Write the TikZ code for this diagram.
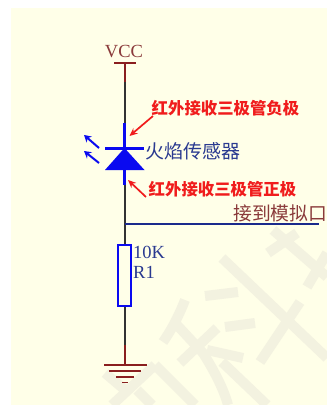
\documentclass[tikz,border=0pt]{standalone}
\usepackage{fontspec}
\setmainfont{Liberation Serif}
\newfontfamily\cjk{Noto Sans CJK SC}
\usetikzlibrary{arrows.meta}
\definecolor{paper}{HTML}{FFFFE8}
\definecolor{wm}{HTML}{F3F2E0}
\definecolor{wirered}{HTML}{8A1F1F}
\definecolor{wireblk}{HTML}{333333}
\definecolor{partblue}{HTML}{0A0AF0}
\definecolor{netnavy}{HTML}{1A2A8C}
\definecolor{labred}{HTML}{F01C1C}
\definecolor{lablue}{HTML}{2A3A90}
\definecolor{labbrown}{HTML}{8A3A3A}
\tikzset{
  wmstroke/.style={draw=wm,line width=10pt},
  redwire/.style={draw=wirered,line width=2pt},
  blkwire/.style={draw=wireblk,line width=2pt},
  bluewire/.style={draw=partblue,line width=2.4pt},
  gndbar/.style={draw=wirered,line width=1.7pt},
  note/.style={text=labred,font=\cjk\bfseries\fontsize{16.4}{16.4}\selectfont,inner sep=0pt},
  callout/.style={draw=labred,line width=1.7pt,-{Stealth[length=8pt,width=7pt]}},
  ledray/.style={draw=partblue,line width=2pt,-{Stealth[length=7pt,width=8pt]}},
  lab/.style={font=\fontsize{18.5}{18.5}\selectfont,inner sep=0pt}
}
\begin{document}
\begin{tikzpicture}[x=1pt,y=-1pt]
\useasboundingbox (0,0) rectangle (327,405);
\fill[white] (0,0) rectangle (327,405);
\fill[paper] (10.5,8) rectangle (327,405);
\begin{scope}
\clip (10.5,8) rectangle (327,405);
\draw[wmstroke] (222,258) -- (327,358);
\draw[wmstroke] (300,302) -- (260,362);
\draw[wmstroke] (205,296) -- (238,292);
\draw[wmstroke] (225,327) -- (255,323);
\draw[wmstroke] (185,300) .. controls (178,318) and (170,332) .. (163,342);
\draw[wmstroke] (177,325) -- (203,353) .. controls (215,372) and (224,390) .. (228,405);
\draw[wmstroke] (217,328) -- (180,363);
\draw[wmstroke] (207,350) -- (243,358);
\draw[wmstroke] (222,362) -- (267,405);
\draw[wmstroke] (155,365) -- (112,405);
\draw[wmstroke] (155,365) -- (195,405);
\draw[wmstroke] (137,390) -- (152,405);
\draw[wmstroke] (105,373) -- (125,390);
\draw[wmstroke] (273,230) -- (327,277);
\draw[wmstroke] (268,253) -- (297,233);
\draw[wmstroke] (307,287) -- (327,253);
\end{scope}
% wires
\coordinate (vccbarL) at (114,62.5);
\coordinate (vccbarR) at (136,62.5);
\coordinate (vcc) at (124.5,62.5);
\coordinate (w1) at (124.5,82);
\coordinate (w2) at (124.5,123);
\coordinate (k) at (124.5,148);
\coordinate (a) at (124.5,170);
\coordinate (w3) at (124.5,185);
\coordinate (tap) at (124.5,224);
\coordinate (netend) at (319,224);
\coordinate (w4) at (124.5,345);
\coordinate (gnd) at (124.5,365);
\node[draw=partblue,line width=2.2pt,minimum width=13pt,minimum height=61pt,inner sep=0pt,anchor=north] (r1) at (124.5,244) {};
\draw[redwire] (vccbarL) -- (vccbarR);
\draw[redwire] (vcc) -- (w1);
\draw[blkwire] (w1) -- (w2);
\draw[bluewire] (w2) -- (k);
\draw[bluewire] (a) -- (w3);
\draw[blkwire] (w3) -- (r1.north);
\draw[blkwire] (r1.south) -- (w4);
\draw[redwire] (w4) -- (gnd);
\draw[draw=netnavy,line width=1.6pt] (tap) -- (netend);
% diode
\coordinate (dL) at (105,148.5);
\coordinate (dR) at (143.5,148.5);
\coordinate (tL) at (105,170);
\coordinate (tR) at (144.5,170);
\draw[draw=partblue,line width=2.6pt] (dL) -- (dR);
\fill[partblue] (k) -- (tR) -- (tL) -- cycle;
\coordinate (ray1s) at (99,148);
\coordinate (ray1e) at (84,135);
\coordinate (ray2s) at (99,163);
\coordinate (ray2e) at (84,151);
\draw[ledray] (ray1s) -- (ray1e);
\draw[ledray] (ray2s) -- (ray2e);
% ground
\coordinate (g1L) at (104,365); \coordinate (g1R) at (147,365);
\coordinate (g2L) at (109,371); \coordinate (g2R) at (141,371);
\coordinate (g3L) at (116,377); \coordinate (g3R) at (134,377);
\coordinate (g4L) at (122,382.5); \coordinate (g4R) at (128,382.5);
\draw[gndbar] (g1L) -- (g1R);
\draw[gndbar] (g2L) -- (g2R);
\draw[gndbar] (g3L) -- (g3R);
\draw[gndbar] (g4L) -- (g4R);
% labels
\node[lab,text=labbrown] (vcct) at (124,52) {VCC};
\node[note,anchor=west] (n1) at (151.5,108) {红外接收三极管负极};
\node[note,anchor=west] (n2) at (148.5,189) {红外接收三极管正极};
\node[anchor=west,text=lablue,inner sep=0pt,font=\cjk\fontsize{19}{19}\selectfont] (fl) at (145,151) {火焰传感器};
\node[anchor=west,text=labbrown,inner sep=0pt,font=\cjk\fontsize{18.8}{18.8}\selectfont] (net) at (233,213) {接到模拟口};
\node[lab,anchor=west,text=lablue] (rv) at (133,252) {10K};
\node[lab,anchor=west,text=lablue] (rn) at (133,272) {R1};
% callouts
\coordinate (c1e) at (129.5,136);
\coordinate (c1s) at (153,116);
\coordinate (c2e) at (128,180);
\coordinate (c2s) at (146,197);
\draw[callout] (c1s) -- (c1e);
\draw[callout] (c2s) -- (c2e);
\end{tikzpicture}
\end{document}
